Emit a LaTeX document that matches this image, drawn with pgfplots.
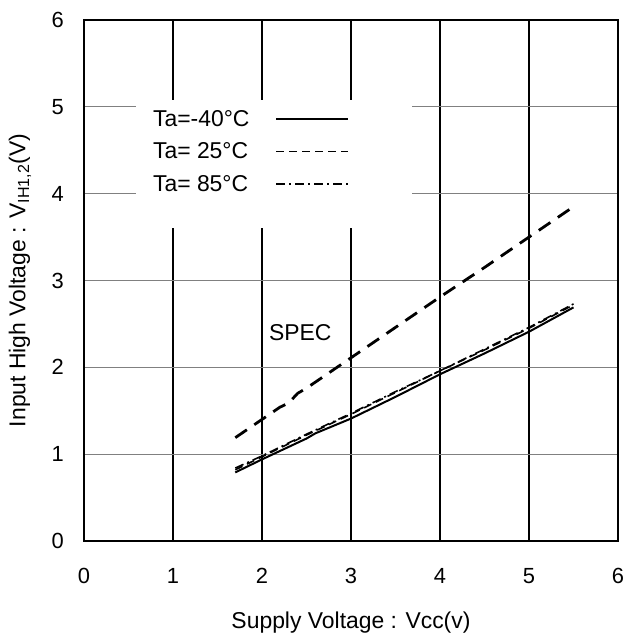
\documentclass[border=0pt]{standalone}
\usepackage{fontspec}
\setmainfont{Liberation Sans}
\usepackage{pgfplots}
\pgfplotsset{compat=1.18}
\begin{document}
\begin{tikzpicture}
\begin{axis}[
  scale only axis, width=534bp, height=521bp,
  xmin=0, xmax=6, ymin=0, ymax=6,
  xtick={0,1,2,3,4,5,6}, ytick={0,1,2,3,4,5,6},
  major tick length=0pt,
  /pgf/number format/assume math mode=true,
  tick label style={font=\fontsize{22}{26}\selectfont, inner sep=0pt},
  xticklabel style={anchor=north, yshift=-27bp},
  yticklabel style={anchor=east, xshift=-20bp},
  xlabel={Supply Voltage : Vcc(v)},
  ylabel={Input High Voltage : V\textsubscript{IH1,2}(V)},
  every axis x label/.style={at={(axis description cs:0.5,-0.157)}, anchor=center,
    font=\fontsize{23}{27}\selectfont, inner sep=0pt},
  every axis y label/.style={at={(axis description cs:-0.12,0.5)}, anchor=center, rotate=90,
    font=\fontsize{23}{27}\selectfont, inner sep=0pt},
  axis line style={line width=2.5bp, black},
  grid=major,
  major x grid style={black, line width=1.3bp},
  major y grid style={gray, line width=1.2bp},
  legend plot pos=right,
  legend cell align=left,
  legend image code/.code={\draw[#1] (0bp,0bp) -- (72bp,0bp);},
  legend style={at={(axis description cs:0.129,0.827)}, anchor=north west, draw=none, fill=none,
    font=\fontsize{23}{27}\selectfont, row sep=15bp, column sep=26bp, inner sep=0pt,
    nodes={inner sep=0pt}},
]
\fill[white] (axis cs:0.585,3.61) rectangle (axis cs:3.69,5.08);
\node[font=\fontsize{23}{27}\selectfont, inner sep=0pt] at (axis cs:2.43,2.40) {SPEC};

\addplot[black, line width=2.8bp, dash pattern=on 14bp off 9bp, forget plot] coordinates {
(1.7,1.19) (2.0,1.40) (2.2,1.54) (2.3,1.59) (2.4,1.70) (2.5,1.76) (3.0,2.11)
(3.5,2.46) (4.0,2.81) (4.5,3.15) (5.0,3.50) (5.5,3.85)};

\addplot[black, line width=2bp] coordinates {
(1.7,0.79) (2.0,0.94) (2.5,1.18) (2.6,1.24) (3.0,1.41) (3.5,1.66)
(4.0,1.92) (4.5,2.16) (5.0,2.41) (5.5,2.69)};
\addlegendentry{Ta=-40°C}

\addplot[black, line width=1.6bp, dash pattern=on 8bp off 5bp] coordinates {
(1.7,0.82) (2.0,0.97) (2.5,1.22) (3.0,1.46) (3.5,1.71)
(4.0,1.96) (4.5,2.20) (5.0,2.45) (5.5,2.72)};
\addlegendentry{Ta= 25°C}

\addplot[black, line width=1.6bp, dash pattern=on 9bp off 4bp on 2bp off 4bp] coordinates {
(1.7,0.84) (2.0,0.98) (2.5,1.23) (3.0,1.47) (3.5,1.72)
(4.0,1.96) (4.5,2.21) (5.0,2.46) (5.5,2.73)};
\addlegendentry{Ta= 85°C}
\end{axis}
\path (current axis.south west) ++(-84bp,-96bp) rectangle ++(628bp,637bp);
\end{tikzpicture}
\end{document}
